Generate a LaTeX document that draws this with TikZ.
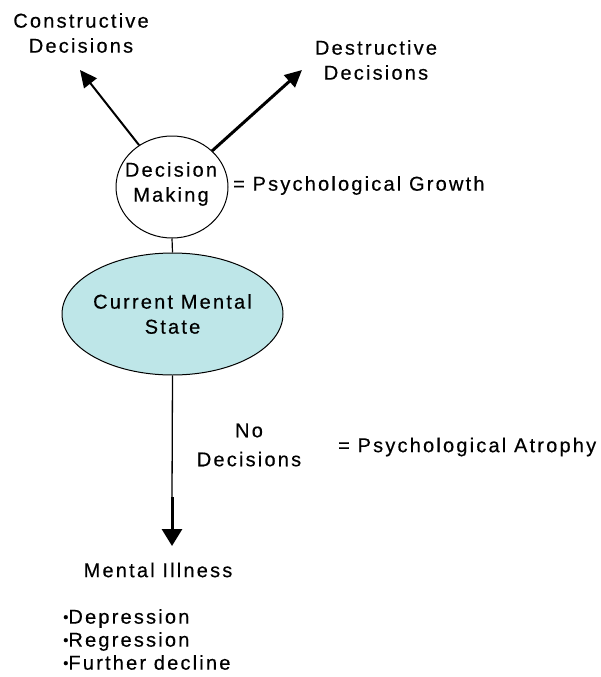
\documentclass[tikz,border=0pt]{standalone}
\usepackage{fontspec}
\setmainfont[LetterSpace=11,FakeBold=0.4]{Liberation Sans}
\usetikzlibrary{arrows.meta,shapes.geometric}
\definecolor{cyanfill}{RGB}{190,230,232}
\tikzset{
  lbl/.style={font=\fontsize{20}{25}\selectfont, inner sep=0pt, align=center},
  bubble/.style={draw, ellipse, inner sep=0pt, line width=1pt},
  arr/.style={-{Triangle[length=17pt,width=16pt]}},
}
\newcommand{\bul}{{\fontsize{15}{15}\selectfont\raisebox{1.5pt}{•}}}
\begin{document}
\begin{tikzpicture}[x=1pt,y=-1pt]
\useasboundingbox (0,0) rectangle (600,677);
\node[lbl] (cons) at (81,33) {Constructive\\Decisions};
\node[lbl] (dest) at (376,60) {Destructive\\Decisions};
\node[bubble, minimum width=112pt, minimum height=102pt, fill=white] (dm) at (172,187) {};
\node[lbl] (dmt) at (171,184) {Decision\\Making};
\node[lbl, anchor=west] (growth) at (233,185.5) {= Psychological Growth};
\node[bubble, fill=cyanfill, minimum width=221pt, minimum height=122pt] (cms) at (172.5,314) {};
\node[lbl] (cmst) at (172.5,314) {Current Mental\\State};
\node[lbl, font=\fontsize{20}{29}\selectfont] (nodec) at (249,445) {No\\Decisions};
\node[lbl, anchor=west] (atro) at (338,447) {= Psychological Atrophy};
\node[lbl] (ill) at (158,570) {Mental Illness};
\node[lbl, anchor=west, align=left, font=\fontsize{20}{23}\selectfont] (list) at (63,639.5) {\bul Depression\\\bul Regression\\\bul Further decline};
\coordinate (ctip) at (80,70);
\coordinate (dtip) at (302,70);
\coordinate (mid) at (172,497);
\coordinate (itip) at (172,546);
\draw[arr, line width=2pt] (dm) -- (ctip);
\draw[arr, line width=3pt] (dm) -- (dtip);
\draw[line width=1.2pt] (dm.south) -- (cms.north);
\draw[line width=1.3pt] (cms.south) -- (mid);
\draw[line width=3pt, -{Triangle[length=17pt,width=20pt]}] (mid) -- (itip);
\end{tikzpicture}
\end{document}
